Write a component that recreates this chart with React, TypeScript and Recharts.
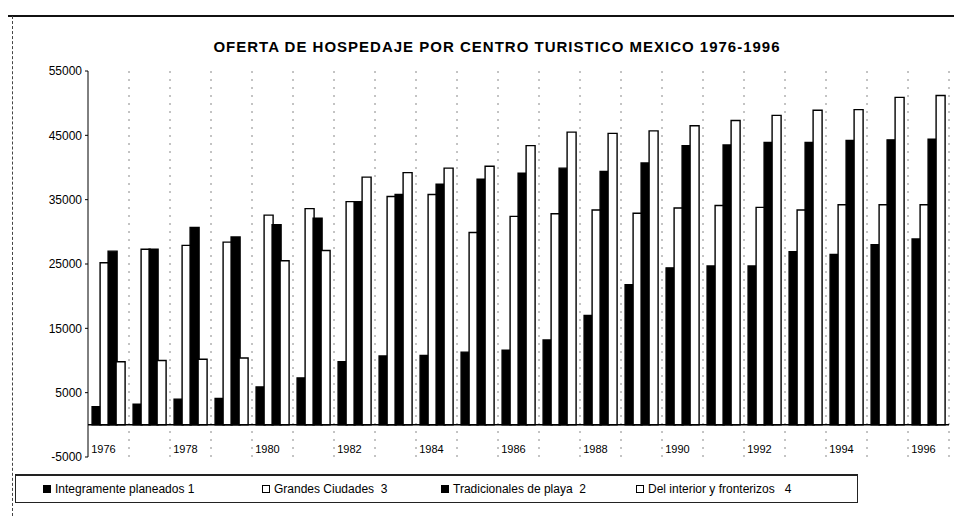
import React from "react";
import {
  BarChart,
  Bar,
  XAxis,
  YAxis,
  CartesianGrid,
  Legend,
  ReferenceLine,
} from "recharts";

const years = [
  "1976", "1977", "1978", "1979", "1980", "1981", "1982",
  "1983", "1984", "1985", "1986", "1987", "1988", "1989",
  "1990", "1991", "1992", "1993", "1994", "1995", "1996",
];

// Integramente planeados 1
const integramentePlaneados = [
  2800, 3200, 4000, 4100, 5900, 7300, 9800, 10700, 10800, 11300, 11600,
  13200, 17000, 21800, 24400, 24700, 24700, 26900, 26500, 28000, 28900,
];

// Grandes Ciudades 3
const grandesCiudades = [
  25200, 27300, 27900, 28400, 32600, 33600, 34700, 35500, 35800, 29900, 32400,
  32800, 33400, 32900, 33700, 34100, 33800, 33400, 34200, 34200, 34200,
];

// Tradicionales de playa 2
const tradicionalesPlaya = [
  27000, 27300, 30700, 29200, 31100, 32100, 34700, 35800, 37400, 38200, 39100,
  39900, 39400, 40700, 43400, 43500, 43900, 43900, 44200, 44300, 44400,
];

// Del interior y fronterizos 4
const interiorFronterizos = [
  9800, 10000, 10200, 10400, 25500, 27100, 38500, 39200, 39900, 40200, 43400,
  45500, 45300, 45700, 46500, 47300, 48100, 48900, 49000, 50900, 51200,
];

const yTicks = [-5000, 5000, 15000, 25000, 35000, 45000, 55000];

const series = [
  { key: "planeados", name: "Integramente planeados 1", fill: "#000000" },
  { key: "ciudades", name: "Grandes Ciudades  3", fill: "#ffffff" },
  { key: "playa", name: "Tradicionales de playa  2", fill: "#000000" },
  { key: "interior", name: "Del interior y fronterizos   4", fill: "#ffffff" },
];

const data = years.map((year, i) => ({
  year,
  planeados: integramentePlaneados[i],
  ciudades: grandesCiudades[i],
  playa: tradicionalesPlaya[i],
  interior: interiorFronterizos[i],
}));

const FONT = "'Liberation Sans', Arial, sans-serif";
const legendWidths = [219, 179, 195, 200];

const YearTick = (props: any) => {
  const { x, y, payload } = props;
  return (
    <text x={x - 5} y={y - 12} textAnchor="middle" fontSize={11} fontFamily={FONT} fill="#000">
      {payload.value}
    </text>
  );
};

const LegendBox = () => (
  <div
    style={{
      width: 843,
      height: 29,
      border: "1px solid #222",
      borderTopWidth: 2,
      display: "flex",
      alignItems: "center",
      fontFamily: FONT,
      fontSize: 12,
      color: "#000",
      boxSizing: "border-box",
      paddingLeft: 27,
    }}
  >
    {series.map((s, i) => (
      <div key={s.key} style={{ width: legendWidths[i], display: "flex", alignItems: "center", whiteSpace: "pre" }}>
        <span
          style={{
            display: "inline-block",
            width: 6,
            height: 6,
            background: s.fill,
            border: "1px solid #000",
            marginRight: 4,
          }}
        />
        {s.name}
      </div>
    ))}
  </div>
);

const App: React.FC = () => (
  <div style={{ position: "relative", width: 946, height: 509, background: "#fff" }}>
    <div style={{ position: "absolute", top: 7, left: -8, width: 962, borderTop: "2px solid #111" }} />
    <div style={{ position: "absolute", top: 8, left: 4, height: 500, borderLeft: "1px dashed #444" }} />
    <div
      style={{
        position: "absolute",
        top: 30,
        left: 0,
        width: 946,
        paddingLeft: 32,
        boxSizing: "border-box",
        textAlign: "center",
        fontFamily: FONT,
        fontWeight: "bold",
        fontSize: 15,
        letterSpacing: 1,
        color: "#000",
      }}
    >
      OFERTA DE HOSPEDAJE POR CENTRO TURISTICO MEXICO 1976-1996
    </div>
    <BarChart
      width={946}
      height={509}
      data={data}
      margin={{ top: 63, right: 5, left: 20, bottom: 30 }}
      barCategoryGap="10%"
      barGap={-1}
    >
      <CartesianGrid
        horizontal={false}
        stroke="#888"
        strokeDasharray="2 6"
        verticalCoordinatesGenerator={({ offset }: any) =>
          years.map((_, i) => offset.left + ((i + 1) * offset.width) / years.length)
        }
      />
      <XAxis
        dataKey="year"
        interval={1}
        axisLine={false}
        tickLine={false}
        height={1}
        tick={<YearTick />}
      />
      <YAxis
        domain={[-5000, 55000]}
        ticks={yTicks}
        width={60}
        tickSize={3}
        tickMargin={3}
        axisLine={{ stroke: "#000" }}
        tickLine={{ stroke: "#000" }}
        tick={{ fontSize: 12, fontFamily: FONT, fill: "#000" }}
        allowDataOverflow
      />
      <ReferenceLine y={0} stroke="#000" strokeWidth={1.5} ifOverflow="visible" />
      <Legend
        verticalAlign="bottom"
        content={<LegendBox />}
        wrapperStyle={{ position: "absolute", top: 466, left: 7, bottom: "auto", width: 843 }}
      />
      {series.map((s) => (
        <Bar
          key={s.key}
          dataKey={s.key}
          name={s.name}
          fill={s.fill}
          stroke="#000"
          strokeWidth={1.4}
          isAnimationActive={false}
        />
      ))}
    </BarChart>
  </div>
);

export default App;
